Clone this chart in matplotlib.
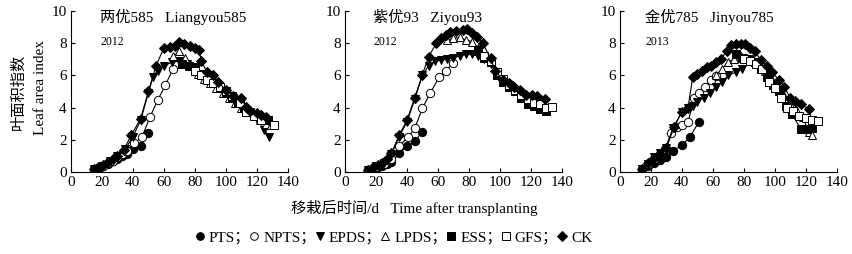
import matplotlib
matplotlib.use("Agg")
import matplotlib.pyplot as plt
from matplotlib.lines import Line2D

plt.rcParams['font.family'] = ['Liberation Serif', 'Noto Sans CJK SC']
plt.rcParams['font.size'] = 11

# ---- 两优585 Liangyou585 (2012)
ly_pts_x = [15, 18, 21, 24, 27, 30, 33, 36, 40, 45, 50]
ly_pts_y = [0.15, 0.25, 0.35, 0.5, 0.65, 0.8, 1.0, 1.1, 1.4, 1.6, 2.4]
ly_npts_x = [15, 18, 21, 24, 27, 30, 33, 36, 41, 46, 51, 56, 61, 66]
ly_npts_y = [0.2, 0.3, 0.4, 0.55, 0.7, 0.9, 1.1, 1.3, 1.8, 2.2, 3.4, 4.45, 5.4, 6.4]
ly_epds_x = [15, 20, 25, 30, 35, 40, 45, 50, 53, 56, 60, 65, 70, 75, 80, 85, 90, 95, 100, 105, 110, 115, 120, 125, 128]
ly_epds_y = [0.2, 0.4, 0.7, 1.0, 1.4, 2.2, 3.2, 4.9, 5.9, 6.3, 6.6, 6.8, 6.9, 6.7, 6.5, 6.1, 5.6, 5.3, 5.0, 4.6, 4.3, 3.7, 3.3, 2.6, 2.2]
ly_lpds_x = [66, 70, 74, 78, 82, 86, 90, 94, 98, 102, 106, 110, 114, 118, 122, 126, 129]
ly_lpds_y = [7.2, 7.5, 7.1, 6.6, 6.1, 5.8, 5.5, 5.2, 4.9, 4.6, 4.3, 4.0, 3.7, 3.5, 3.2, 3.0, 2.9]
ly_ess_x = [72, 76, 80, 84, 88, 92, 96, 100, 104, 108, 112, 116, 120, 124, 127]
ly_ess_y = [6.7, 6.6, 6.4, 6.1, 5.8, 5.5, 5.2, 4.9, 4.6, 4.3, 4.0, 3.7, 3.5, 3.3, 3.2]
ly_gfs_x = [80, 84, 88, 92, 96, 100, 104, 109, 113, 118, 123, 131]
ly_gfs_y = [6.3, 6.0, 5.7, 5.5, 5.3, 5.0, 4.7, 4.3, 3.75, 3.5, 3.2, 2.9]
ly_ck_x = [15, 18, 21, 24, 27, 30, 34, 39, 45, 50, 55, 60, 64, 67, 70, 73, 77, 80, 83, 84, 88, 92, 95, 100, 105, 110, 113, 116, 120, 123, 126]
ly_ck_y = [0.2, 0.3, 0.45, 0.6, 0.8, 1.0, 1.35, 2.3, 3.3, 5.0, 6.6, 7.7, 7.75, 7.85, 8.05, 7.95, 7.8, 7.7, 7.6, 6.9, 6.2, 6.0, 5.6, 5.1, 4.7, 4.6, 4.05, 3.8, 3.65, 3.55, 3.4]

# ---- 紫优93 Ziyou93 (2012)
zy_pts_x = [15, 18, 21, 24, 27, 30, 35, 40, 45, 50]
zy_pts_y = [0.1, 0.2, 0.3, 0.4, 0.5, 0.6, 1.15, 1.6, 1.9, 2.5]
zy_npts_x = [15, 20, 25, 30, 35, 41, 45, 50, 55, 61, 65, 70]
zy_npts_y = [0.1, 0.3, 0.5, 0.8, 1.6, 2.2, 2.7, 3.95, 4.9, 5.9, 6.3, 6.75]
zy_epds_x = [15, 20, 25, 30, 35, 40, 45, 50, 54, 58, 62, 66, 70, 74, 78, 82, 86, 90, 94, 98]
zy_epds_y = [0.1, 0.35, 0.55, 1.1, 2.2, 3.1, 4.5, 6.0, 6.6, 6.9, 6.95, 7.0, 7.1, 7.2, 7.3, 7.3, 7.2, 7.0, 6.7, 6.2]
zy_lpds_x = [66, 70, 74, 78, 82, 86, 90, 94, 98, 102]
zy_lpds_y = [8.2, 8.3, 8.35, 8.2, 8.1, 7.7, 7.2, 6.9, 6.2, 5.8]
zy_ess_x = [86, 90, 94, 98, 102, 106, 110, 114, 118, 122, 126, 130]
zy_ess_y = [7.6, 7.1, 6.8, 6.0, 5.6, 5.3, 5.0, 4.6, 4.2, 4.1, 3.9, 3.8]
zy_gfs_x = [90, 94, 98, 102, 106, 110, 114, 118, 122, 126, 130, 134]
zy_gfs_y = [7.2, 6.9, 6.2, 5.8, 5.4, 5.1, 4.8, 4.5, 4.3, 4.2, 4.0, 4.05]
zy_ck_x = [15, 18, 21, 24, 27, 30, 35, 40, 45, 50, 54, 59, 62, 65, 68, 72, 76, 79, 82, 85, 89, 94, 97, 102, 106, 109, 113, 117, 121, 124, 129]
zy_ck_y = [0.12, 0.3, 0.45, 0.55, 0.8, 1.16, 2.3, 3.2, 4.6, 6.05, 7.15, 8.0, 8.3, 8.5, 8.7, 8.75, 8.8, 8.85, 8.6, 8.4, 8.0, 7.05, 6.3, 5.7, 5.5, 5.3, 5.1, 4.8, 4.75, 4.7, 4.5]

# ---- 金优785 Jinyou785 (2013)
jy_pts_x = [14, 18, 22, 26, 30, 34, 40, 45, 51]
jy_pts_y = [0.1, 0.35, 0.55, 0.75, 0.95, 1.3, 1.65, 2.15, 3.1]
jy_npts_x = [14, 18, 22, 26, 29, 33, 37, 40, 44, 48, 51, 55, 59, 62]
jy_npts_y = [0.2, 0.5, 0.8, 1.1, 1.4, 2.4, 2.8, 2.9, 3.1, 4.6, 4.9, 5.3, 5.7, 5.95]
jy_epds_x = [14, 18, 22, 26, 30, 34, 40, 44, 47, 50, 54, 58, 62, 66, 70, 75, 79]
jy_epds_y = [0.2, 0.5, 0.9, 1.2, 1.5, 2.7, 3.7, 4.0, 4.1, 4.35, 4.6, 4.9, 5.3, 5.6, 6.0, 6.2, 6.4]
jy_lpds_x = [62, 66, 70, 74, 78, 82, 86, 90, 94, 98, 102, 106, 110, 114, 118, 122, 124]
jy_lpds_y = [6.0, 6.4, 6.85, 7.0, 7.2, 7.1, 7.0, 6.8, 6.3, 5.7, 5.2, 4.7, 4.2, 3.9, 3.4, 2.5, 2.3]
jy_ess_x = [75, 79, 83, 87, 91, 95, 99, 103, 107, 111, 117, 120, 124]
jy_ess_y = [7.3, 7.1, 7.0, 6.8, 6.4, 5.9, 5.4, 5.0, 4.1, 3.6, 2.65, 2.65, 2.7]
jy_gfs_x = [80, 84, 88, 92, 96, 100, 104, 108, 112, 116, 120, 124, 128]
jy_gfs_y = [7.0, 6.9, 6.7, 6.4, 5.6, 5.2, 4.6, 4.0, 3.8, 3.5, 3.35, 3.2, 3.15]
jy_ck_x = [14, 18, 22, 26, 30, 35, 40, 44, 47, 50, 53, 56, 59, 62, 65, 69, 72, 75, 78, 81, 84, 87, 91, 95, 98, 103, 106, 110, 113, 117, 122]
jy_ck_y = [0.2, 0.55, 0.85, 1.1, 1.5, 2.8, 3.75, 4.0, 5.9, 6.1, 6.3, 6.5, 6.6, 6.8, 7.0, 7.5, 7.9, 7.95, 7.95, 7.95, 7.7, 7.5, 6.95, 6.6, 6.2, 5.7, 5.3, 4.6, 4.4, 4.2, 3.9]

names = ['PTS', 'NPTS', 'EPDS', 'LPDS', 'ESS', 'GFS', 'CK']
markers = ['o', 'o', 'v', '^', 's', 's', 'D']
fills = ['k', 'w', 'k', 'w', 'k', 'w', 'k']
sizes = [6, 6, 6, 6, 5.5, 5.5, 5]

panels = [
    ('两优585   Liangyou585', '2012',
     [(ly_pts_x, ly_pts_y), (ly_npts_x, ly_npts_y), (ly_epds_x, ly_epds_y), (ly_lpds_x, ly_lpds_y),
      (ly_ess_x, ly_ess_y), (ly_gfs_x, ly_gfs_y), (ly_ck_x, ly_ck_y)]),
    ('紫优93   Ziyou93', '2012',
     [(zy_pts_x, zy_pts_y), (zy_npts_x, zy_npts_y), (zy_epds_x, zy_epds_y), (zy_lpds_x, zy_lpds_y),
      (zy_ess_x, zy_ess_y), (zy_gfs_x, zy_gfs_y), (zy_ck_x, zy_ck_y)]),
    ('金优785   Jinyou785', '2013',
     [(jy_pts_x, jy_pts_y), (jy_npts_x, jy_npts_y), (jy_epds_x, jy_epds_y), (jy_lpds_x, jy_lpds_y),
      (jy_ess_x, jy_ess_y), (jy_gfs_x, jy_gfs_y), (jy_ck_x, jy_ck_y)]),
]

fig = plt.figure(figsize=(8.53, 2.54), dpi=100)
lefts = [0.0832, 0.4045, 0.7268]
title_x = [0.134, 0.13, 0.116]

for i, (title, year, series) in enumerate(panels):
    ax = fig.add_axes([lefts[i], 0.323, 0.254, 0.634])
    for (x, y), m, fc, ms in zip(series, markers, fills, sizes):
        ax.plot(x, y, color='k', lw=0.8, marker=m, ms=ms, mfc=fc, mec='k', mew=0.7)
    ax.set_xlim(0, 140)
    ax.set_ylim(0, 10)
    ax.set_xticks(range(0, 141, 20))
    ax.set_yticks(range(0, 11, 2))
    ax.spines['top'].set_visible(False)
    ax.spines['right'].set_visible(False)
    ax.tick_params(direction='in', length=3, labelsize=11, pad=3)
    ax.text(title_x[i], 0.965, title, transform=ax.transAxes, fontsize=11, va='center', ha='left')
    ax.text(title_x[i], 0.81, year, transform=ax.transAxes, fontsize=8.5, va='center', ha='left')

fig.text(0.022, 0.64, '叶面积指数', rotation=90, ha='center', va='center', fontsize=11)
fig.text(0.047, 0.655, 'Leaf area index', rotation=90, ha='center', va='center', fontsize=11)
fig.text(0.486, 0.18, '移栽后时间/d   Time after transplanting', ha='center', va='center', fontsize=11)

handles = [Line2D([], [], ls='none', marker=m, ms=5.5, mfc=fc, mec='k', mew=0.7)
           for m, fc in zip(markers, fills)]
labels = [n + '；' if n != 'CK' else n for n in names]
fig.legend(handles, labels, loc='center', bbox_to_anchor=(0.462, 0.063), ncol=7, frameon=False,
           handlelength=0.5, handletextpad=0.35, columnspacing=0.0, fontsize=11, borderpad=0)

fig.savefig('out.png', dpi=100)
